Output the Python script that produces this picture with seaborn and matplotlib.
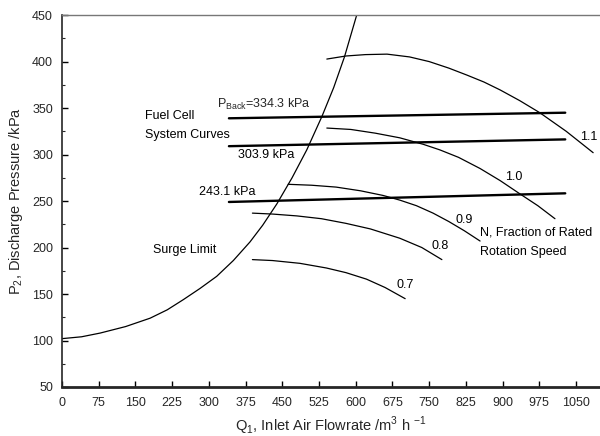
import matplotlib
matplotlib.use("Agg")
import matplotlib.pyplot as plt
import seaborn as sns
from matplotlib.ticker import MultipleLocator

sns.set_style("ticks")
plt.rcParams["font.family"] = ["Liberation Sans", "DejaVu Sans"]
plt.rcParams["mathtext.fontset"] = "custom"
plt.rcParams["mathtext.rm"] = "Liberation Sans"

# Surge limit line (Q in m3/h, P in kPa)
surge_q = [0, 40, 78, 130, 180, 215, 248, 282, 316, 350, 384, 410, 439,
           470, 500, 531, 555, 577, 602]
surge_p = [102, 104, 108, 115, 124, 133, 144, 156, 169, 186, 206, 224, 247,
           275, 305, 341, 372, 405, 450]

# Compressor characteristics at fraction of rated rotation speed N
speed_labels = ["0.7", "0.8", "0.9", "1.0", "1.1"]
speed_q = {
    "0.7": [389, 430, 486, 540, 580, 622, 660, 701],
    "0.8": [389, 430, 480, 530, 580, 630, 690, 735, 776],
    "0.9": [462, 510, 560, 610, 656, 690, 724, 758, 790, 822, 854],
    "1.0": [541, 590, 640, 690, 738, 772, 810, 854, 895, 936, 972, 1007],
    "1.1": [541, 580, 620, 664, 710, 750, 790, 827, 862, 895, 935, 976,
            1030, 1085],
}
speed_p = {
    "0.7": [187, 186, 183, 178, 173, 166, 157, 145],
    "0.8": [237, 236, 234, 231, 226, 220, 210, 200, 187],
    "0.9": [268, 267, 265, 261, 256, 251, 245, 237, 228, 218, 207],
    "1.0": [328.5, 327, 323, 318, 311, 305, 297, 285, 272, 257.5, 245, 231],
    "1.1": [402.7, 406, 407.5, 408, 405, 400, 393, 385.5, 378, 369.5, 358,
            345, 325, 302],
}

# Fuel cell system curves for three back pressures
system_labels = ["P$_\\mathregular{Back}$=334.3 kPa", "303.9 kPa", "243.1 kPa"]
system_q = [[341, 1028], [341, 1028], [341, 1028]]
system_p = [[339, 345], [309, 316.3], [249, 258.3]]

fig = plt.figure(figsize=(6.0, 4.36), dpi=100)
ax = fig.add_axes([0.1033, 0.1124, 0.8967, 0.853])

sns.lineplot(x=surge_q, y=surge_p, ax=ax, color="black", lw=0.9,
             sort=False, estimator=None)
for lab in speed_labels:
    sns.lineplot(x=speed_q[lab], y=speed_p[lab], ax=ax, color="black",
                 lw=0.9, sort=False, estimator=None)
for q, p in zip(system_q, system_p):
    sns.lineplot(x=q, y=p, ax=ax, color="black", lw=1.7,
                 sort=False, estimator=None)

ax.set_xlim(0, 1099)
ax.set_ylim(50, 450)
ax.xaxis.set_major_locator(MultipleLocator(75))
ax.yaxis.set_major_locator(MultipleLocator(50))
ax.yaxis.set_minor_locator(MultipleLocator(25))
ax.tick_params(axis="both", which="major", direction="in", length=4,
               width=1, labelsize=9, color="black")
ax.tick_params(axis="x", which="major", pad=7)
ax.tick_params(axis="y", which="major", pad=6.5)
ax.tick_params(axis="y", which="minor", direction="in", length=2.5,
               width=0.8)

ax.spines["left"].set_linewidth(1.2)
ax.spines["bottom"].set_linewidth(2.0)
ax.spines["top"].set_visible(True)
ax.spines["top"].set_color("#777777")
ax.spines["top"].set_linewidth(1.0)
ax.spines["right"].set_visible(False)

ax.set_xlabel("Q$_\\mathregular{1}$, Inlet Air Flowrate /m$^\\mathregular{3}$ h $^\\mathregular{-1}$",
              fontsize=10.5, labelpad=4.5)
ax.set_ylabel("P$_\\mathregular{2}$, Discharge Pressure /kPa", fontsize=10.5,
              labelpad=5)

txt = dict(fontsize=9, color="black", va="center", ha="left")
ax.text(170, 341, "Fuel Cell", **txt)
ax.text(170, 321, "System Curves", **txt)
ax.text(316, 350, system_labels[0], fontsize=9, va="baseline", ha="left")
ax.text(360, 299.5, system_labels[1], **txt)
ax.text(280, 259.7, system_labels[2], **txt)
ax.text(185, 197, "Surge Limit", **txt)

speed_text_pos = {
    "0.7": (684, 159.7),
    "0.8": (755, 202),
    "0.9": (803, 229.6),
    "1.0": (905, 275.8),
    "1.1": (1058, 318.8),
}
for lab in speed_labels:
    x, y = speed_text_pos[lab]
    ax.text(x, y, lab, **txt)
ax.text(854, 216, "N, Fraction of Rated", **txt)
ax.text(854, 194.8, "Rotation Speed", **txt)

fig.savefig("out.png", dpi=100)
